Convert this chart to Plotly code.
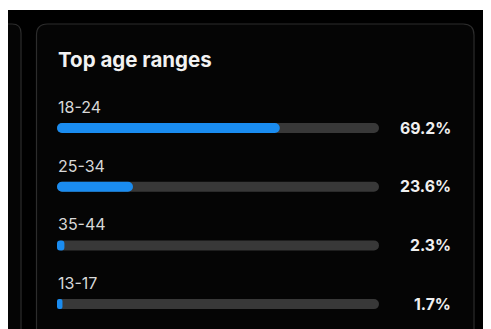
import plotly.graph_objects as go

# Page body has an 8px margin, so the figure starts at screen (8, 8)
OFF = 8
W, H = 483, 321

categories = ["18-24", "25-34", "35-44", "13-17"]
values = [69.2, 23.6, 2.3, 1.7]
value_labels = ["69.2%", "23.6%", "2.3%", "1.7%"]
title_text = "Top age ranges"
track_max = 100

BLUE = "#1a8cf0"
TRACK = "#383838"
BORDER = "#2c2c2c"
FONT = "Inter, Roboto, Liberation Sans, sans-serif"

def px(x):
    return (x - OFF) / W

def py(y):
    return 1 - (y - OFF) / H

def rrect(x0, y0, x1, y1, r):
    pts = [
        f"M {px(x0)},{py(y1)}",
        f"L {px(x0)},{py(y0 + r)}",
        f"Q {px(x0)},{py(y0)} {px(x0 + r)},{py(y0)}",
        f"L {px(x1 - r)},{py(y0)}",
        f"Q {px(x1)},{py(y0)} {px(x1)},{py(y0 + r)}",
        f"L {px(x1)},{py(y1)}",
    ]
    return " ".join(pts)

n = len(categories)
idx = list(range(n))
spacing = 58.7
c0 = 128 - OFF
y_top = -c0 / spacing
y_bot = (H - c0) / spacing
bar_w = 10 / spacing

fig = go.Figure()

def pill(vals, color):
    # drawn from the value back to 0 with an explicit base: both ends get rounded
    fig.add_trace(go.Bar(
        y=idx, x=[-v for v in vals], base=vals, orientation="h", width=bar_w,
        marker=dict(color=color, cornerradius=5, line=dict(width=0)),
        hoverinfo="skip", showlegend=False,
    ))

pill([track_max] * n, TRACK)
pill(values, BLUE)

shapes = [
    dict(type="rect", xref="paper", yref="paper", x0=0, x1=1, y0=0, y1=py(10),
         fillcolor="#000000", line=dict(width=0), layer="below"),
    dict(type="path", xref="paper", yref="paper", path=rrect(-20, 24, 21, 345, 9),
         fillcolor="#050505", line=dict(color=BORDER, width=1.2), layer="below"),
    dict(type="path", xref="paper", yref="paper", path=rrect(36.5, 24, 474, 345, 11),
         fillcolor="#050505", line=dict(color=BORDER, width=1.2), layer="below"),
    dict(type="path", xref="paper", yref="paper", path=rrect(489, 24, 530, 345, 9),
         fillcolor="#050505", line=dict(color=BORDER, width=1.2), layer="below"),
]

annotations = [
    dict(text=f"<b>{title_text}</b>", xref="paper", yref="paper", x=px(56), y=py(59),
         xanchor="left", yanchor="middle", showarrow=False,
         font=dict(family=FONT, size=20.5, color="#f2f2f2")),
]
for i, (c, lab) in enumerate(zip(categories, value_labels)):
    annotations.append(dict(text=c, xref="paper", yref="y", x=px(56), y=i - 21 / spacing,
                            xanchor="left", yanchor="middle", showarrow=False,
                            font=dict(family=FONT, size=16, color="#d8d8d8")))
    annotations.append(dict(text=f"<b>{lab}</b>", xref="paper", yref="y", x=px(453), y=i,
                            xanchor="right", yanchor="middle", showarrow=False,
                            font=dict(family=FONT, size=15.8, color="#f0f0f0")))

fig.update_layout(
    width=W, height=H, margin=dict(l=0, r=0, t=0, b=0),
    paper_bgcolor="#ffffff", plot_bgcolor="rgba(0,0,0,0)",
    barmode="overlay",
    xaxis=dict(domain=[px(57), px(379)], range=[0, 100], visible=False, fixedrange=True),
    yaxis=dict(domain=[0, 1], range=[y_bot, y_top], visible=False, fixedrange=True),
    shapes=shapes, annotations=annotations,
)

fig.write_html("out.html")
